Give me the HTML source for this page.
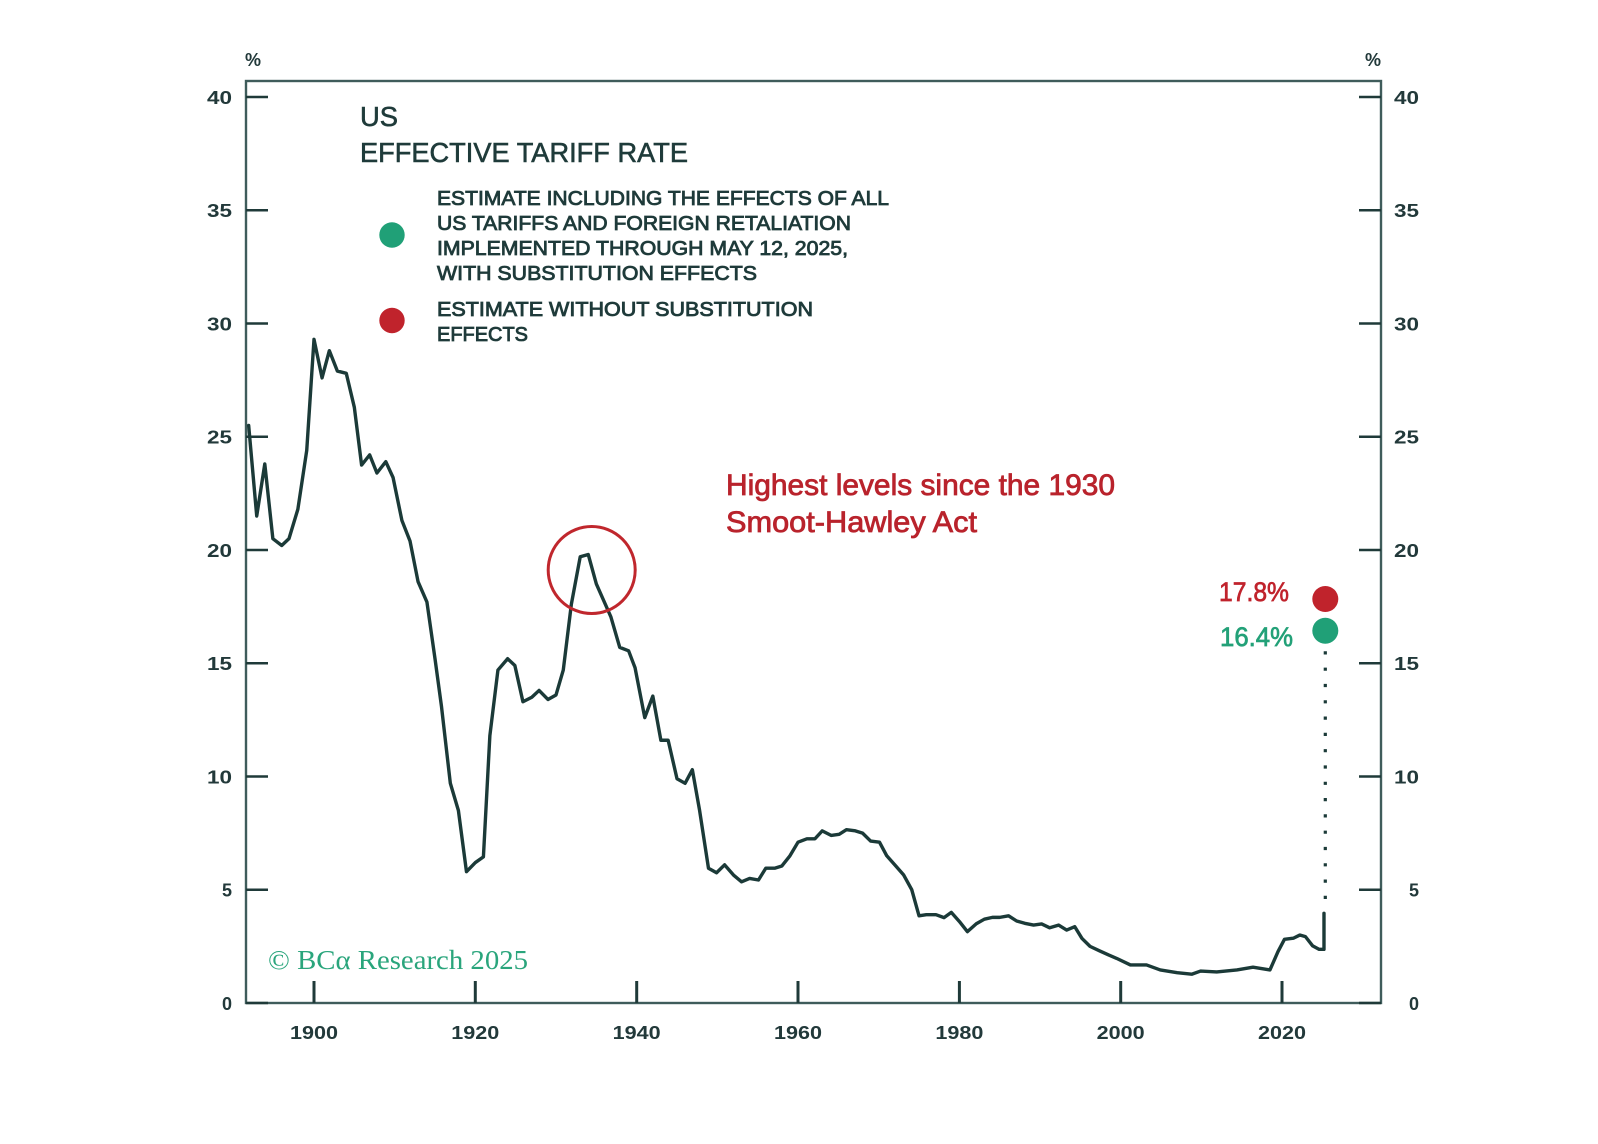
<!DOCTYPE html>
<html>
<head>
<meta charset="utf-8">
<style>
  html, body { margin: 0; padding: 0; background: #ffffff; }
  body { width: 1598px; height: 1144px; overflow: hidden; }
  svg { display: block; }
  .tick { font-family: "Liberation Sans", sans-serif; font-weight: bold; font-size: 18px; fill: #22393a; }
  .leg { font-family: "Liberation Sans", sans-serif; font-size: 20.5px; fill: #1f3b3a; stroke: #1f3b3a; stroke-width: 0.85px; }
  .title { font-family: "Liberation Sans", sans-serif; font-size: 28px; fill: #1f3b3a; stroke: #1f3b3a; stroke-width: 0.6px; }
  .ann { font-family: "Liberation Sans", sans-serif; font-size: 30px; fill: #b9232c; stroke: #b9232c; stroke-width: 0.8px; }
</style>
</head>
<body>
<svg width="1598" height="1144" viewBox="0 0 1598 1144" xmlns="http://www.w3.org/2000/svg">
  <rect x="0" y="0" width="1598" height="1144" fill="#ffffff"/>

  <!-- frame -->
  <rect x="246" y="81" width="1135" height="922" fill="none" stroke="#3f5c5b" stroke-width="2.4"/>

  <!-- y ticks left / right -->
  <g stroke="#1f3a39" stroke-width="2.6">
    <line x1="246" y1="1003" x2="268" y2="1003"/>
    <line x1="246" y1="889.75" x2="268" y2="889.75"/>
    <line x1="246" y1="776.5" x2="268" y2="776.5"/>
    <line x1="246" y1="663.25" x2="268" y2="663.25"/>
    <line x1="246" y1="550" x2="268" y2="550"/>
    <line x1="246" y1="436.75" x2="268" y2="436.75"/>
    <line x1="246" y1="323.5" x2="268" y2="323.5"/>
    <line x1="246" y1="210.25" x2="268" y2="210.25"/>
    <line x1="246" y1="97" x2="268" y2="97"/>

    <line x1="1359" y1="1003" x2="1381" y2="1003"/>
    <line x1="1359" y1="889.75" x2="1381" y2="889.75"/>
    <line x1="1359" y1="776.5" x2="1381" y2="776.5"/>
    <line x1="1359" y1="663.25" x2="1381" y2="663.25"/>
    <line x1="1359" y1="550" x2="1381" y2="550"/>
    <line x1="1359" y1="436.75" x2="1381" y2="436.75"/>
    <line x1="1359" y1="323.5" x2="1381" y2="323.5"/>
    <line x1="1359" y1="210.25" x2="1381" y2="210.25"/>
    <line x1="1359" y1="97" x2="1381" y2="97"/>
  </g>

  <!-- x ticks -->
  <g stroke="#1f3a39" stroke-width="3">
    <line x1="314" y1="981" x2="314" y2="1003"/>
    <line x1="475.3" y1="981" x2="475.3" y2="1003"/>
    <line x1="636.7" y1="981" x2="636.7" y2="1003"/>
    <line x1="798" y1="981" x2="798" y2="1003"/>
    <line x1="959.4" y1="981" x2="959.4" y2="1003"/>
    <line x1="1120.7" y1="981" x2="1120.7" y2="1003"/>
    <line x1="1282" y1="981" x2="1282" y2="1003"/>
  </g>

  <!-- left y labels -->
  <g class="tick" text-anchor="end">
    <text x="232" y="1010">0</text>
    <text x="232" y="896.5">5</text>
    <text x="232" y="783.5" textLength="25" lengthAdjust="spacingAndGlyphs">10</text>
    <text x="232" y="670" textLength="25" lengthAdjust="spacingAndGlyphs">15</text>
    <text x="232" y="557" textLength="25" lengthAdjust="spacingAndGlyphs">20</text>
    <text x="232" y="443.5" textLength="25" lengthAdjust="spacingAndGlyphs">25</text>
    <text x="232" y="330.5" textLength="25" lengthAdjust="spacingAndGlyphs">30</text>
    <text x="232" y="217" textLength="25" lengthAdjust="spacingAndGlyphs">35</text>
    <text x="232" y="104" textLength="25" lengthAdjust="spacingAndGlyphs">40</text>
  </g>
  <!-- right y labels -->
  <g class="tick" text-anchor="end">
    <text x="1419" y="1010">0</text>
    <text x="1419" y="896.5">5</text>
    <text x="1419" y="783.5" textLength="25" lengthAdjust="spacingAndGlyphs">10</text>
    <text x="1419" y="670" textLength="25" lengthAdjust="spacingAndGlyphs">15</text>
    <text x="1419" y="557" textLength="25" lengthAdjust="spacingAndGlyphs">20</text>
    <text x="1419" y="443.5" textLength="25" lengthAdjust="spacingAndGlyphs">25</text>
    <text x="1419" y="330.5" textLength="25" lengthAdjust="spacingAndGlyphs">30</text>
    <text x="1419" y="217" textLength="25" lengthAdjust="spacingAndGlyphs">35</text>
    <text x="1419" y="104" textLength="25" lengthAdjust="spacingAndGlyphs">40</text>
  </g>

  <!-- percent signs -->
  <text class="tick" x="253" y="66" text-anchor="middle" font-size="17">%</text>
  <text class="tick" x="1373" y="66" text-anchor="middle" font-size="17">%</text>

  <!-- x labels -->
  <g class="tick" text-anchor="middle">
    <text x="314" y="1039" textLength="48" lengthAdjust="spacingAndGlyphs">1900</text>
    <text x="475.3" y="1039" textLength="48" lengthAdjust="spacingAndGlyphs">1920</text>
    <text x="636.7" y="1039" textLength="48" lengthAdjust="spacingAndGlyphs">1940</text>
    <text x="798" y="1039" textLength="48" lengthAdjust="spacingAndGlyphs">1960</text>
    <text x="959.4" y="1039" textLength="48" lengthAdjust="spacingAndGlyphs">1980</text>
    <text x="1120.7" y="1039" textLength="48" lengthAdjust="spacingAndGlyphs">2000</text>
    <text x="1282" y="1039" textLength="48" lengthAdjust="spacingAndGlyphs">2020</text>
  </g>

  <!-- data line -->
  <g transform="translate(314,1003) scale(8.067,-22.65)">
    <polyline fill="none" stroke="#1b3a38" stroke-width="3.4" vector-effect="non-scaling-stroke" stroke-linejoin="round" stroke-linecap="round"
      points="-8.1,25.5 -7.1,21.5 -6.1,23.8 -5.1,20.5 -4,20.2 -3.1,20.5 -2,21.8 -0.9,24.4 0,29.3 1,27.6 1.9,28.8 2.9,27.9 4,27.8 5,26.3 5.9,23.75 6.9,24.2 7.8,23.4 8.9,23.9 9.8,23.2 10.9,21.3 11.9,20.4 12.9,18.6 14,17.7 15,15.2 15.8,13.1 16.9,9.7 17.9,8.5 18.9,5.8 20,6.2 21,6.45 21.8,11.8 22.8,14.7 24,15.2 24.9,14.9 25.9,13.3 27,13.5 27.9,13.8 29,13.4 30,13.6 30.9,14.7 31.9,17.6 33,19.7 34,19.8 35,18.5 36.8,17.05 37.9,15.7 39,15.55 39.8,14.8 41,12.6 42,13.55 43,11.6 43.9,11.6 45,9.9 46,9.7 46.9,10.3 47.8,8.5 48.9,5.95 49.9,5.75 50.9,6.1 52,5.65 53,5.35 54,5.5 55.1,5.43 56,5.95 57.1,5.95 58,6.05 59,6.5 60,7.1 61.1,7.25 62.1,7.25 63,7.6 64.1,7.4 65.1,7.45 66,7.65 67.1,7.6 68,7.5 69,7.15 70.1,7.1 71,6.5 72,6.1 73.1,5.65 74.1,5.0 75,3.85 75.9,3.9 77.1,3.9 78.1,3.77 79,4.0 80,3.6 81,3.15 82.1,3.5 83.1,3.7 84.1,3.78 85,3.78 86.1,3.85 87.1,3.62 88.1,3.52 89.2,3.44 90.2,3.49 91.2,3.32 92.3,3.44 93.3,3.22 94.3,3.37 95.2,2.85 96.2,2.5 97.4,2.3 98.5,2.12 99.5,1.97 101.2,1.68 103.2,1.68 104.9,1.46 107,1.34 108.8,1.27 109.9,1.41 111.9,1.37 114.4,1.46 116.4,1.58 118.5,1.46 119.5,2.27 120.3,2.81 121.4,2.86 122.2,3.0 122.9,2.93 123.8,2.52 124.6,2.37 125.2,2.37 125.2,3.96"/>
  </g>

  <!-- dotted connector -->
  <line x1="1325.3" y1="899" x2="1325.3" y2="645" stroke="#1b3a38" stroke-width="3.2" stroke-dasharray="3.2 13.1"/>

  <!-- 2025 estimates -->
  <circle cx="1325.3" cy="599" r="13" fill="#c0232c"/>
  <circle cx="1325.3" cy="630.7" r="13" fill="#20a077"/>

  <text x="1219" y="601" font-family="'Liberation Sans', sans-serif" font-size="27" fill="#c0232c" stroke="#c0232c" stroke-width="0.7" textLength="70" lengthAdjust="spacingAndGlyphs">17.8%</text>
  <text x="1220" y="646" font-family="'Liberation Sans', sans-serif" font-size="27" fill="#23a178" stroke="#23a178" stroke-width="0.7" textLength="73" lengthAdjust="spacingAndGlyphs">16.4%</text>

  <!-- highlight circle -->
  <circle cx="591.7" cy="570" r="43.5" fill="none" stroke="#c0272d" stroke-width="3"/>

  <!-- annotation -->
  <text class="ann" x="726" y="495" textLength="389" lengthAdjust="spacingAndGlyphs">Highest levels since the 1930</text>
  <text class="ann" x="726" y="532" textLength="251" lengthAdjust="spacingAndGlyphs">Smoot-Hawley Act</text>

  <!-- title -->
  <text class="title" x="360" y="126" textLength="38" lengthAdjust="spacingAndGlyphs">US</text>
  <text class="title" x="360" y="162" textLength="328" lengthAdjust="spacingAndGlyphs">EFFECTIVE TARIFF RATE</text>

  <!-- legend -->
  <circle cx="392" cy="235" r="12.7" fill="#20a077"/>
  <circle cx="392" cy="320.5" r="12.7" fill="#c0232c"/>
  <text class="leg" x="437" y="205" textLength="452" lengthAdjust="spacingAndGlyphs">ESTIMATE INCLUDING THE EFFECTS OF ALL</text>
  <text class="leg" x="437" y="230" textLength="414" lengthAdjust="spacingAndGlyphs">US TARIFFS AND FOREIGN RETALIATION</text>
  <text class="leg" x="437" y="255" textLength="411" lengthAdjust="spacingAndGlyphs">IMPLEMENTED THROUGH MAY 12, 2025,</text>
  <text class="leg" x="437" y="280" textLength="320" lengthAdjust="spacingAndGlyphs">WITH SUBSTITUTION EFFECTS</text>
  <text class="leg" x="437" y="316" textLength="376" lengthAdjust="spacingAndGlyphs">ESTIMATE WITHOUT SUBSTITUTION</text>
  <text class="leg" x="437" y="341" textLength="91" lengthAdjust="spacingAndGlyphs">EFFECTS</text>

  <!-- copyright -->
  <text x="268" y="969" font-family="'Liberation Serif', serif" font-size="27" fill="#2aa57c" textLength="260" lengthAdjust="spacingAndGlyphs">© BCα Research 2025</text>
</svg>
</body>
</html>
